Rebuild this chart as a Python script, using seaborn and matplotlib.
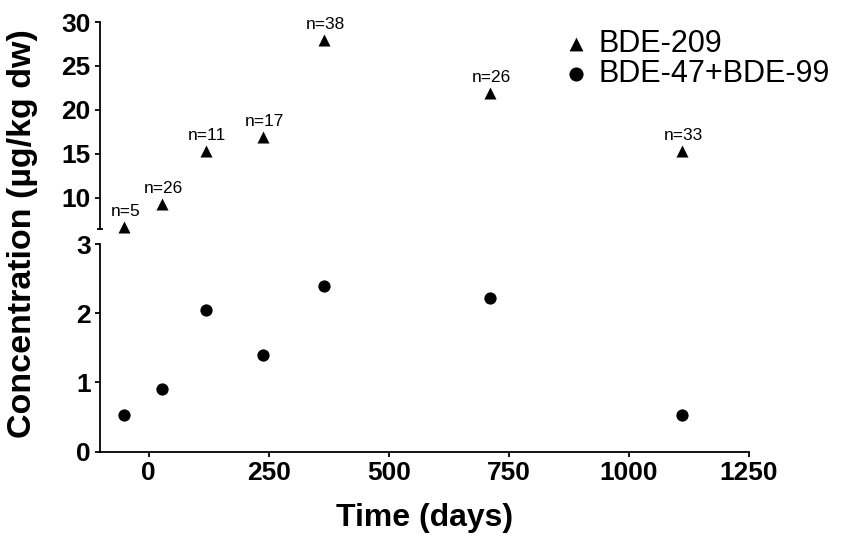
import matplotlib
matplotlib.use("Agg")
import matplotlib.pyplot as plt
import seaborn as sns
import pandas as pd

# ---- data ----
days = [-50, 28, 119, 239, 365, 710, 1110]
bde209 = [6.65, 9.3, 15.3, 16.9, 27.9, 21.9, 15.3]
bde47_99 = [0.53, 0.90, 2.05, 1.39, 2.39, 2.22, 0.53]
n_labels = ["n=5", "n=26", "n=11", "n=17", "n=38", "n=26", "n=33"]
x_ticks = [0, 250, 500, 750, 1000, 1250]
y_ticks_low = [0, 1, 2, 3]
y_ticks_high = [10, 15, 20, 25, 30]

sns.set_style("ticks")
plt.rcParams["font.family"] = ["Liberation Sans", "DejaVu Sans"]
for key in ("text.color", "axes.labelcolor", "xtick.color", "ytick.color", "axes.edgecolor"):
    plt.rcParams[key] = "black"

df_top = pd.DataFrame({"Time": days, "Conc": bde209, "Series": "BDE-209"})
df_low = pd.DataFrame({"Time": days, "Conc": bde47_99, "Series": "BDE-47+BDE-99"})

fig = plt.figure(figsize=(8.42, 5.39), dpi=100)
W, H = 842.0, 539.0
left_px, right_px = 100, 749
ax_top = fig.add_axes([left_px / W, 1 - 228.7 / H, (right_px - left_px) / W, (228.7 - 22) / H])
ax_low = fig.add_axes([left_px / W, 1 - 451.5 / H, (right_px - left_px) / W, (451.5 - 244) / H])

lw = 1.3
sns.scatterplot(data=df_top, x="Time", y="Conc", ax=ax_top, marker="^", color="black",
                s=75, linewidth=0, label="BDE-209", clip_on=False, zorder=3)
sns.scatterplot(data=df_low, x="Time", y="Conc", ax=ax_low, marker="o", color="black",
                s=78, linewidth=0, label="BDE-47+BDE-99", clip_on=False, zorder=3)

for xv, yv, lab in zip(days, bde209, n_labels):
    ax_top.annotate(lab, (xv, yv), xytext=(1, 11.5), textcoords="offset points",
                    ha="center", va="center", fontsize=12.5, color="black",
                    annotation_clip=False)

xlim = (-101, 1250)
for ax in (ax_top, ax_low):
    ax.set_xlim(*xlim)
    ax.set_facecolor("none")
    for s in ("top", "right"):
        ax.spines[s].set_visible(False)
    ax.spines["left"].set_linewidth(lw)
    ax.spines["bottom"].set_linewidth(lw)
    ax.spines["left"].set_color("black")
    ax.spines["bottom"].set_color("black")
    ax.set_xlabel("")
    ax.set_ylabel("")
    ax.tick_params(axis="both", width=lw, length=3.7, labelsize=19, pad=3,
                   color="black", labelcolor="black")
    leg = ax.get_legend()
    if leg is not None:
        leg.remove()

# upper panel
ax_top.set_ylim(6.5, 30)
ax_top.set_yticks(y_ticks_high)
ax_top.set_yticklabels([str(v) for v in y_ticks_high], fontweight="bold")
ax_top.spines["bottom"].set_visible(False)
ax_top.tick_params(axis="x", bottom=False, labelbottom=False)
ax_top.set_yticks([6.5], minor=True)
ax_top.tick_params(axis="y", which="minor", direction="inout", length=5, width=lw)

# lower panel
ax_low.set_ylim(0, 3)
ax_low.set_yticks(y_ticks_low)
ax_low.set_yticklabels([str(v) for v in y_ticks_low], fontweight="bold")
ax_low.set_xticks(x_ticks)
ax_low.set_xticklabels([str(v) for v in x_ticks], fontweight="bold")
ax_low.set_yticks([3], minor=True)
ax_low.tick_params(axis="y", which="minor", direction="in", length=3, width=lw)

ax_low.set_xlabel("Time (days)", fontsize=23, fontweight="bold", color="black")
ax_low.xaxis.set_label_coords(0.5, -0.25)

fig.text(23 / W, 1 - 234 / H, "Concentration (µg/kg dw)", rotation=90,
         ha="center", va="center", fontsize=24.5, fontweight="bold", color="black")

# legend
h1, l1 = ax_top.get_legend_handles_labels()
h2, l2 = ax_low.get_legend_handles_labels()
fig.legend(h1 + h2, l1 + l2, loc="center left", bbox_to_anchor=(565 / W, 1 - 59 / H),
           frameon=False, borderpad=0, borderaxespad=0, handlelength=0.75,
           handletextpad=0.35, labelspacing=0.0, fontsize=22, markerscale=1.15,
           labelcolor="black")

fig.savefig("out.png", dpi=100)
